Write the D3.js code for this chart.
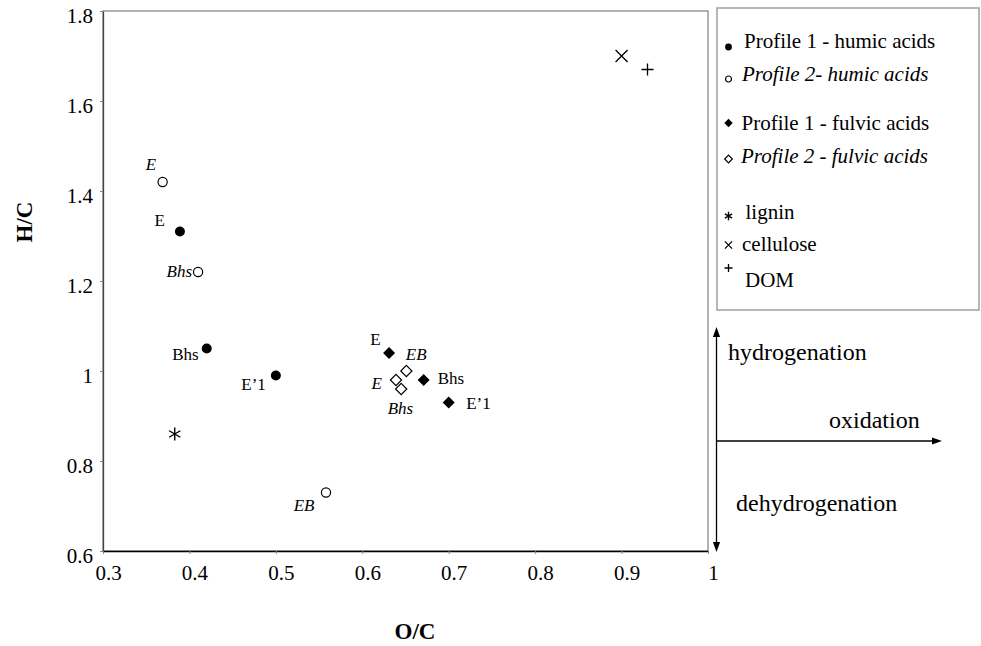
<!DOCTYPE html>
<html>
<head>
<meta charset="utf-8">
<script src="https://cdn.jsdelivr.net/npm/d3@7/dist/d3.min.js"></script>
<style>
  html, body { margin: 0; padding: 0; background: #fff; }
  svg { display: block; font-family: "Liberation Serif", "Times New Roman", serif; }
</style>
</head>
<body>
<svg id="chart" width="981" height="646"></svg>
<script>
// ---- Data: van Krevelen diagram (atomic O/C vs H/C) ----
// Profile 1, humic acids
const hum1Labels = ["E", "Bhs", "E\u20191"];
const hum1OC = [0.389, 0.42, 0.50];
const hum1HC = [1.31, 1.05, 0.99];
// Profile 2, humic acids
const hum2Labels = ["E", "Bhs", "EB"];
const hum2OC = [0.369, 0.41, 0.558];
const hum2HC = [1.42, 1.22, 0.73];
// Profile 1, fulvic acids
const ful1Labels = ["E", "Bhs", "E\u20191"];
const ful1OC = [0.631, 0.671, 0.70];
const ful1HC = [1.04, 0.98, 0.93];
// Profile 2, fulvic acids
const ful2Labels = ["EB", "E", "Bhs"];
const ful2OC = [0.651, 0.639, 0.645];
const ful2HC = [1.00, 0.98, 0.96];
// Reference compounds
const ligninOC = [0.383], ligninHC = [0.86];
const celluloseOC = [0.90], celluloseHC = [1.70];
const domOC = [0.93], domHC = [1.67];

const xTicks = [0.3, 0.4, 0.5, 0.6, 0.7, 0.8, 0.9, 1];
const yTicks = [0.6, 0.8, 1, 1.2, 1.4, 1.6, 1.8];

const legendLabels = [
  "Profile 1 - humic acids",
  "Profile 2- humic acids",
  "Profile 1 - fulvic acids",
  "Profile 2 - fulvic acids",
  "lignin",
  "cellulose",
  "DOM"
];

// ---- Layout ----
const svg = d3.select("#chart");
const plot = { left: 103, right: 708, top: 11, bottom: 551 };
const x = d3.scaleLinear().domain([0.3, 1]).range([plot.left, plot.right]);
const y = d3.scaleLinear().domain([0.6, 1.8]).range([plot.bottom, plot.top]);

// label offsets (dx, dy to baseline, anchor) per series point
const hum1Offsets = [[-15, -6, "end"], [-8, 11, "end"], [-10, 14, "end"]];
const hum2Offsets = [[-6.5, -12.5, "end"], [-6, 4.5, "end"], [-11.5, 18.5, "end"]];
const ful1Offsets = [[-8.5, -8, "end"], [14, 4, "start"], [17.5, 6, "start"]];
const ful2Offsets = [[-0.5, -11.5, "start"], [-14, 9, "end"], [-13.5, 24.5, "start"]];

// ---- Marker shapes ----
function diamondPath(s) { return `M0,${-s}L${s},0L0,${s}L${-s},0Z`; }
function drawMarker(g, type, s) {
  switch (type) {
    case "dot":
      g.append("circle").attr("r", s).attr("fill", "#000");
      break;
    case "ring":
      g.append("circle").attr("r", s).attr("fill", "#fff").attr("stroke", "#000").attr("stroke-width", 1.2);
      break;
    case "diamond":
      g.append("path").attr("d", diamondPath(s)).attr("fill", "#000");
      break;
    case "openDiamond":
      g.append("path").attr("d", diamondPath(s)).attr("fill", "#fff").attr("stroke", "#000").attr("stroke-width", 1.2);
      break;
    case "asterisk": {
      const a = s * 0.87, b = s * 0.5;
      g.append("path")
        .attr("d", `M0,${-s}L0,${s}M${-a},${-b}L${a},${b}M${-a},${b}L${a},${-b}`)
        .attr("stroke", "#000").attr("stroke-width", 1.4).attr("fill", "none");
      break;
    }
    case "cross":
      g.append("path").attr("d", `M${-s},${-s}L${s},${s}M${-s},${s}L${s},${-s}`)
        .attr("stroke", "#000").attr("stroke-width", 1.3).attr("fill", "none");
      break;
    case "plus":
      g.append("path").attr("d", `M${-s},0L${s},0M0,${-s}L0,${s}`)
        .attr("stroke", "#000").attr("stroke-width", 1.3).attr("fill", "none");
      break;
  }
}

// ---- Plot frame ----
svg.append("rect")
  .attr("x", plot.left).attr("y", plot.top)
  .attr("width", plot.right - plot.left).attr("height", plot.bottom - plot.top)
  .attr("fill", "none").attr("stroke", "#808080").attr("stroke-width", 1.2);

// ---- Axes ----
const fmt = d3.format("~g");
const xAxis = svg.append("g")
  .attr("transform", `translate(0,${plot.bottom})`)
  .call(d3.axisBottom(x).tickValues(xTicks).tickSize(3).tickSizeOuter(0).tickFormat(fmt));
xAxis.select(".domain").attr("stroke", "#000").attr("stroke-width", 1.3);
xAxis.selectAll(".tick line").attr("stroke", "#888");
xAxis.selectAll(".tick text")
  .attr("y", 14).attr("x", 5)
  .attr("font-size", 21).attr("font-family", "Liberation Serif").attr("fill", "#000");

const yAxis = svg.append("g")
  .attr("transform", `translate(${plot.left},0)`)
  .call(d3.axisLeft(y).tickValues(yTicks).tickSize(3).tickSizeOuter(0).tickFormat(fmt));
yAxis.select(".domain").attr("stroke", "#444").attr("stroke-width", 1.3);
yAxis.selectAll(".tick line").attr("stroke", "#888");
yAxis.selectAll(".tick text")
  .attr("x", -10).attr("dy", "0.55em")
  .attr("font-size", 21).attr("font-family", "Liberation Serif").attr("fill", "#000");

// Axis titles
svg.append("text")
  .attr("x", 415).attr("y", 639)
  .attr("text-anchor", "middle").attr("font-weight", "bold").attr("font-size", 23)
  .text("O/C");
svg.append("text")
  .attr("transform", "translate(32,222) rotate(-90)")
  .attr("text-anchor", "middle").attr("font-weight", "bold").attr("font-size", 23)
  .text("H/C");

// ---- Points with labels ----
function drawSeries(ocs, hcs, labels, offsets, type, size, italic) {
  const g = svg.append("g");
  ocs.forEach((oc, i) => {
    const px = x(oc), py = y(hcs[i]);
    const m = g.append("g").attr("transform", `translate(${px},${py})`);
    drawMarker(m, type, size);
    if (labels) {
      const [dx, dy, anchor] = offsets[i];
      g.append("text")
        .attr("x", px + dx).attr("y", py + dy)
        .attr("text-anchor", anchor)
        .attr("font-size", 17)
        .attr("font-style", italic ? "italic" : "normal")
        .text(labels[i]);
    }
  });
}

drawSeries(hum1OC, hum1HC, hum1Labels, hum1Offsets, "dot", 5, false);
drawSeries(hum2OC, hum2HC, hum2Labels, hum2Offsets, "ring", 4.6, true);
drawSeries(ful1OC, ful1HC, ful1Labels, ful1Offsets, "diamond", 6, false);
drawSeries(ful2OC, ful2HC, ful2Labels, ful2Offsets, "openDiamond", 5.6, true);
drawSeries(ligninOC, ligninHC, null, null, "asterisk", 6.5, false);
drawSeries(celluloseOC, celluloseHC, null, null, "cross", 6, false);
drawSeries(domOC, domHC, null, null, "plus", 6, false);

// ---- Legend ----
svg.append("rect")
  .attr("x", 717).attr("y", 8).attr("width", 262).attr("height", 302)
  .attr("fill", "none").attr("stroke", "#999").attr("stroke-width", 1.4);

const legendMarkers = [["dot", 3.4], ["ring", 3], ["diamond", 4.2], ["openDiamond", 3.8], ["asterisk", 4.2], ["cross", 3.6], ["plus", 4]];
const legendMarkerY = [47, 79, 123, 159, 216, 245, 268];
const legendTextX = [744, 742, 741.5, 741, 745.5, 742, 745];
const legendTextY = [48, 81, 130, 163, 219, 251, 287];
const legendItalic = [false, true, false, true, false, false, false];

legendLabels.forEach((label, i) => {
  const m = svg.append("g").attr("transform", `translate(728.5,${legendMarkerY[i]})`);
  drawMarker(m, legendMarkers[i][0], legendMarkers[i][1]);
  svg.append("text")
    .attr("x", legendTextX[i]).attr("y", legendTextY[i])
    .attr("font-size", 21)
    .attr("font-style", legendItalic[i] ? "italic" : "normal")
    .text(label);
});

// ---- Direction arrows ----
const arrows = svg.append("g");
const ax = 716.5;
arrows.append("line").attr("x1", ax).attr("x2", ax).attr("y1", 335).attr("y2", 544)
  .attr("stroke", "#000").attr("stroke-width", 1.3);
arrows.append("path").attr("d", `M${ax},327L${ax - 3.6},337L${ax + 3.6},337Z`).attr("fill", "#000");
arrows.append("path").attr("d", `M${ax},552L${ax - 3.6},542L${ax + 3.6},542Z`).attr("fill", "#000");
arrows.append("line").attr("x1", ax).attr("x2", 934).attr("y1", 441).attr("y2", 441)
  .attr("stroke", "#000").attr("stroke-width", 1.3);
arrows.append("path").attr("d", `M942,441L932,437.4L932,444.6Z`).attr("fill", "#000");

arrows.append("text").attr("x", 728).attr("y", 360).attr("font-size", 24).text("hydrogenation");
arrows.append("text").attr("x", 829).attr("y", 428).attr("font-size", 24).text("oxidation");
arrows.append("text").attr("x", 736).attr("y", 511).attr("font-size", 24).text("dehydrogenation");
</script>
</body>
</html>
